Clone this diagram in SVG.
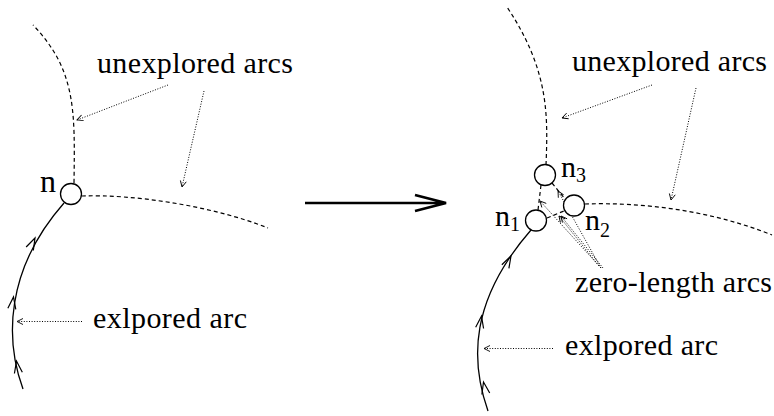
<svg xmlns="http://www.w3.org/2000/svg" width="774" height="416" viewBox="0 0 774 416">
<style>
text{font-family:'Liberation Serif','Times New Roman',serif;font-size:30px;fill:#000}
.s{font-size:20px}
.node{fill:#fff;stroke:#000;stroke-width:1.3}
.dash{fill:none;stroke:#000;stroke-width:1.2;stroke-dasharray:4 3}
.solid{fill:none;stroke:#000;stroke-width:1.3}
.dot{fill:none;stroke:#000;stroke-width:1;stroke-dasharray:1 1.6;marker-end:url(#ah)}
.ah{fill:none;stroke:#000;stroke-width:1.2}
</style>
<defs>
<marker id="ah" markerUnits="userSpaceOnUse" markerWidth="10" markerHeight="10" refX="7" refY="5" orient="auto">
<path d="M1 2 L7 5 L1 8" fill="none" stroke="#000" stroke-width="0.9"/>
</marker>
<path id="v" d="M-12 -4 L0 0 L-12 4"/>
</defs>
<g id="connectors">
<path class="dash" d="M74 183 C75 110 76 70 33 25"/>
<path class="dash" d="M82 196 C130 194 210 205 268 228"/>
<path class="solid" d="M23 389 C5 340 5 270 64 203"/>
<use href="#v" class="ah" transform="translate(35 238) rotate(-64)"/>
<use href="#v" class="ah" transform="translate(13.5 297) rotate(-82)"/>
<use href="#v" class="ah" transform="translate(16.5 361) rotate(-99)"/>
<path class="dot" d="M168 85 L77 120"/>
<path class="dot" d="M204 91 L182 187"/>
<path class="dot" d="M82 321.5 L17 321.5"/>
<path fill="none" stroke="#000" stroke-width="2.7" d="M305 203 L446 203 M415 195 L446 203 L415 211"/>
<path class="dash" d="M546 165 C548 115 549 70 507 7"/>
<path class="dash" d="M585 204 C640 202 710 210 772 235"/>
<path class="dash" d="M541 185 L538 210"/>
<path class="dash" d="M552 183 L565 199"/>
<path class="dash" d="M547 218 L564 211"/>
<path class="solid" d="M488 411 C470 360 470 300 531 230"/>
<use href="#v" class="ah" transform="translate(511 256) rotate(-62)"/>
<use href="#v" class="ah" transform="translate(481.5 316) rotate(-81)"/>
<use href="#v" class="ah" transform="translate(483.5 382) rotate(-101)"/>
<path class="dot" d="M652 85 L562 118"/>
<path class="dot" d="M696 88 L671 200"/>
<path class="dot" d="M601 268 L540 201"/>
<path class="dot" d="M601 268 L558 191"/>
<path class="dot" d="M599 266 L559 216"/>
<path class="dot" d="M603 268 L561 216"/>
<path class="dot" d="M553 348.5 L484 348.5"/>
</g>
<g id="node-n">
<circle class="node" cx="71" cy="194" r="10.5"/>
<text x="40" y="191.5" style="font-size:32px">n</text>
</g>
<g id="node-n3">
<circle class="node" cx="545" cy="175" r="10.5"/>
<text x="561" y="176.5">n<tspan class="s" dy="5.5">3</tspan></text>
</g>
<g id="node-n2">
<circle class="node" cx="574" cy="205.5" r="10.5"/>
<text x="585" y="230">n<tspan class="s" dy="6.5">2</tspan></text>
</g>
<g id="node-n1">
<circle class="node" cx="536" cy="220.5" r="10.5"/>
<text x="495" y="226">n<tspan class="s" dy="5">1</tspan></text>
</g>
<g id="labels">
<text x="97" y="72.5" textLength="196" lengthAdjust="spacing">unexplored arcs</text>
<text x="93" y="328" textLength="154" lengthAdjust="spacing">exlpored arc</text>
<text x="572" y="71" textLength="195" lengthAdjust="spacing">unexplored arcs</text>
<text x="575" y="292" textLength="197" lengthAdjust="spacing">zero-length arcs</text>
<text x="565" y="355" textLength="153" lengthAdjust="spacing">exlpored arc</text>
</g>
</svg>
